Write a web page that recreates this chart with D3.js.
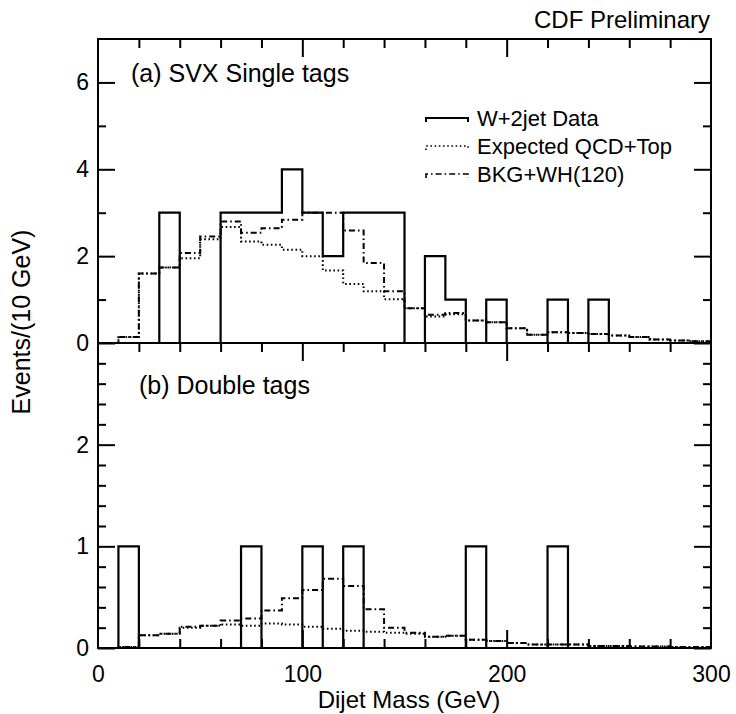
<!DOCTYPE html>
<html>
<head>
<meta charset="utf-8">
<script src="https://cdn.jsdelivr.net/npm/d3@7/dist/d3.min.js"></script>
<style>
  body { margin: 0; background: #fff; }
  svg { display: block; font-family: "Liberation Sans", Arial, sans-serif; }
</style>
</head>
<body>
<svg width="736" height="714"></svg>
<script>
// low edges of the 10 GeV bins
const binLow = [0, 10, 20, 30, 40, 50, 60, 70, 80, 90, 100, 110, 120, 130, 140,
  150, 160, 170, 180, 190, 200, 210, 220, 230, 240, 250, 260, 270, 280, 290];
const binWidth = 10;

// (a) SVX single tags
const singleData = [0, 0, 0, 3, 0, 0, 3, 3, 3, 4, 3, 2, 3, 3, 3,
  0, 2, 1, 0, 1, 0, 0, 1, 0, 1, 0, 0, 0, 0, 0];
const singleExpected = [0, 0.14, 1.6, 1.74, 1.95, 2.39, 2.67, 2.34, 2.26, 2.15, 2.0, 1.67, 1.36, 1.19, 1.01,
  0.8, 0.61, 0.66, 0.52, 0.48, 0.34, 0.19, 0.25, 0.23, 0.21, 0.17, 0.14, 0.08, 0.06, 0.04];
const singleBkgWH = [0, 0.14, 1.6, 1.74, 2.07, 2.45, 2.8, 2.54, 2.64, 2.84, 3.0, 3.0, 2.59, 1.84, 1.19,
  0.8, 0.65, 0.69, 0.52, 0.48, 0.34, 0.19, 0.25, 0.23, 0.21, 0.17, 0.14, 0.08, 0.06, 0.04];

// (b) double tags
const doubleData = [0, 1, 0, 0, 0, 0, 0, 1, 0, 0, 1, 0, 1, 0, 0,
  0, 0, 0, 1, 0, 0, 0, 1, 0, 0, 0, 0, 0, 0, 0];
const doubleExpected = [0, 0.01, 0.125, 0.14, 0.2, 0.22, 0.23, 0.22, 0.24, 0.23, 0.21, 0.19, 0.17, 0.16, 0.15,
  0.14, 0.11, 0.12, 0.08, 0.07, 0.05, 0.035, 0.035, 0.035, 0.02, 0.02, 0.015, 0.015, 0.01, 0.01];
const doubleBkgWH = [0, 0.01, 0.125, 0.14, 0.21, 0.22, 0.27, 0.29, 0.37, 0.49, 0.57, 0.68, 0.61, 0.38, 0.2,
  0.15, 0.11, 0.12, 0.08, 0.07, 0.05, 0.035, 0.035, 0.035, 0.02, 0.02, 0.015, 0.015, 0.01, 0.01];

const xTicksMajor = [0, 100, 200, 300];
const xTicksMinor = [20, 40, 60, 80, 120, 140, 160, 180, 220, 240, 260, 280];
const topYMajor = [0, 2, 4, 6];
const topYMinor = [1, 3, 5];
const botYMajor = [0, 1, 2];
const botYMinor = [0.2, 0.4, 0.6, 0.8, 1.2, 1.4, 1.6, 1.8, 2.2, 2.4, 2.6, 2.8];

const legendLabels = ["W+2jet Data", "Expected QCD+Top", "BKG+WH(120)"];

const svg = d3.select("svg");
const padL = 98, padR = 711, padT = 39, padMid = 343, padB = 648;

const x = d3.scaleLinear().domain([0, 300]).range([padL, padR]);
const yTop = d3.scaleLinear().domain([0, 7]).range([padMid, padT]);
const yBot = d3.scaleLinear().domain([0, 3]).range([padB, padMid]);

const styles = {
  data: { dash: null, width: 2.2 },
  expected: { dash: "1.6,2.6", width: 2 },
  bkg: { dash: "6,3,1.6,3", width: 2 }
};

function histPath(values, y) {
  const pts = values.map((v, i) => [binLow[i], v]);
  pts.push([binLow[binLow.length - 1] + binWidth, values[values.length - 1]]);
  return d3.line()
    .x(d => x(d[0]))
    .y(d => y(d[1]))
    .curve(d3.curveStepAfter)(pts);
}

function drawHist(values, y, style) {
  svg.append("path")
    .attr("d", histPath(values, y))
    .attr("fill", "none")
    .attr("stroke", "#000")
    .attr("stroke-width", style.width)
    .attr("stroke-dasharray", style.dash);
}

function tickAxis(axis, pos, size, labels) {
  const g = svg.append("g")
    .attr("transform", pos)
    .call(axis.tickSize(size).tickSizeOuter(0));
  g.select(".domain").remove();
  g.selectAll("line").attr("stroke", "#000").attr("stroke-width", 2);
  if (!labels) g.selectAll("text").remove();
  return g;
}

// histograms
drawHist(singleExpected, yTop, styles.expected);
drawHist(singleBkgWH, yTop, styles.bkg);
drawHist(singleData, yTop, styles.data);
drawHist(doubleExpected, yBot, styles.expected);
drawHist(doubleBkgWH, yBot, styles.bkg);
drawHist(doubleData, yBot, styles.data);

// frames
svg.append("rect")
  .attr("x", padL).attr("y", padT)
  .attr("width", padR - padL).attr("height", padB - padT)
  .attr("fill", "none").attr("stroke", "#000").attr("stroke-width", 2);
svg.append("line")
  .attr("x1", padL).attr("x2", padR).attr("y1", padMid).attr("y2", padMid)
  .attr("stroke", "#000").attr("stroke-width", 2);

// x ticks: top of (a), top of (b), bottom of (b)
[[`translate(0,${padT})`, 1], [`translate(0,${padMid})`, 1], [`translate(0,${padB})`, -1]].forEach(([pos, dir]) => {
  const mk = () => dir > 0 ? d3.axisBottom(x) : d3.axisTop(x);
  tickAxis(mk().tickValues(xTicksMajor.slice(1, 3)), pos, 18, false);
  tickAxis(mk().tickValues(xTicksMinor), pos, 9, false);
});

// x labels
const xl = tickAxis(d3.axisBottom(x).tickValues(xTicksMajor).tickFormat(d3.format("d")),
  `translate(0,${padB})`, 0, true);
xl.selectAll("line").remove();
xl.selectAll("text")
  .attr("y", 34).attr("dy", 0)
  .attr("fill", "#000")
  .style("font-size", "23px");

// y ticks
function yTicks(y, major, minor, minorLen) {
  tickAxis(d3.axisLeft(y).tickValues(major).tickFormat(d3.format("d")).tickPadding(9),
    `translate(${padL},0)`, -17, true)
    .selectAll("text").attr("fill", "#000").style("font-size", "23px");
  tickAxis(d3.axisLeft(y).tickValues(minor), `translate(${padL},0)`, -minorLen, false);
  tickAxis(d3.axisRight(y).tickValues(major), `translate(${padR},0)`, -17, false);
  tickAxis(d3.axisRight(y).tickValues(minor), `translate(${padR},0)`, -minorLen, false);
}
yTicks(yTop, topYMajor, topYMinor, 8);
yTicks(yBot, botYMajor, botYMinor, 8);

// texts
svg.append("text")
  .attr("x", 710).attr("y", 28)
  .attr("text-anchor", "end")
  .style("font-size", "24px")
  .text("CDF Preliminary");

svg.append("text")
  .attr("x", 131).attr("y", 82)
  .style("font-size", "25px")
  .text("(a) SVX Single tags");

svg.append("text")
  .attr("x", 139).attr("y", 394)
  .style("font-size", "25px")
  .text("(b) Double tags");

svg.append("text")
  .attr("x", 409).attr("y", 708)
  .attr("text-anchor", "middle")
  .style("font-size", "24px")
  .text("Dijet Mass (GeV)");

svg.append("text")
  .attr("transform", "rotate(-90)")
  .attr("x", -322).attr("y", 30)
  .attr("text-anchor", "middle")
  .style("font-size", "25px")
  .text("Events/(10 GeV)");

// legend
const legend = svg.append("g").attr("transform", "translate(426,118)");
[styles.data, styles.expected, styles.bkg].forEach((s, i) => {
  const yy = i * 28;
  legend.append("path")
    .attr("d", `M0,${yy + 4}V${yy}H42V${yy + 4}`)
    .attr("fill", "none")
    .attr("stroke", "#000")
    .attr("stroke-width", i === 0 ? 2 : 1.6)
    .attr("stroke-dasharray", s.dash);
  legend.append("text")
    .attr("x", 51).attr("y", yy + 8)
    .style("font-size", "22px")
    .text(legendLabels[i]);
});
</script>
</body>
</html>
